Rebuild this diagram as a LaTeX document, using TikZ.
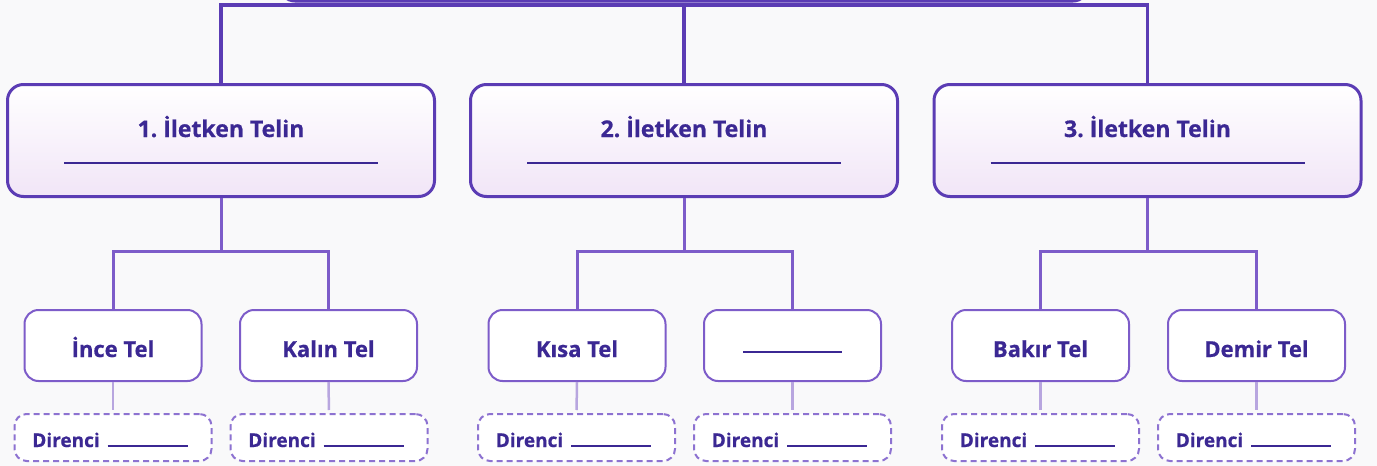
\documentclass[tikz,border=0pt]{standalone}
\usepackage{fontspec}
\setmainfont{Open Sans}[BoldFeatures={FakeBold=0.6}]
\frenchspacing
\definecolor{bg}{HTML}{F9F9FA}
\definecolor{dk}{HTML}{5B3CB4}
\definecolor{md}{HTML}{7D5CC9}
\definecolor{lt}{HTML}{B8A6DF}
\definecolor{dsh}{HTML}{8D72D1}
\definecolor{txt}{HTML}{3B2893}
\definecolor{lav}{HTML}{F1E5F7}
\begin{document}
\begin{tikzpicture}[x=1pt,y=-1pt,
  rootbox/.style={draw=dk, line width=3pt, rounded corners=15pt, fill=white, minimum width=808pt, minimum height=80pt},
  lvtwo/.style={draw=dk, line width=3pt, rounded corners=16pt, top color=white, bottom color=lav, minimum width=427pt, minimum height=112pt},
  ttl/.style={text=txt, font=\bfseries\fontsize{23}{27}\selectfont, anchor=base, inner sep=0pt},
  uline/.style={draw=txt, line width=1.8pt},
  lvthree/.style={draw=md, line width=2pt, rounded corners=14pt, fill=white, minimum width=177pt, minimum height=71pt, text=txt, font=\bfseries\fontsize{22}{26}\selectfont, text height=23pt, text depth=0pt, inner sep=0pt},
  dbox/.style={draw=dsh, line width=2pt, dash pattern=on 6pt off 4pt, rounded corners=12pt, fill=white, minimum width=197pt, minimum height=47pt, text=txt, font=\bfseries\fontsize{19}{22}\selectfont, text height=19pt, text depth=0pt, inner sep=0pt},
  topconn/.style={draw=dk, line width=3.5pt},
  midconn/.style={draw=md, line width=3pt},
  ltconn/.style={draw=lt, line width=2.5pt, shorten >=3pt}
]
\fill[bg] (0,0) rectangle (1377,466);
\begin{scope}
\clip (0,0) rectangle (1377,466);
\node[rootbox] (root) at (684,-39) {};
\end{scope}
\useasboundingbox (0,0) rectangle (1377,466);

% level 2
\node[lvtwo] (b1) at (221,140.5) {};
\node[lvtwo] (b2) at (684,140.5) {};
\node[lvtwo] (b3) at (1147.5,140.5) {};
\node[ttl] (t1) at (221,137) {1. İletken Telin};
\node[ttl] (t2) at (684,137) {2. İletken Telin};
\node[ttl] (t3) at (1147.5,137) {3. İletken Telin};
\draw[uline] (64,163) -- (378,163);
\draw[uline] (527,163) -- (841,163);
\draw[uline] (990.5,163) -- (1304.5,163);

% top connectors
\coordinate (bus) at (684,5);
\draw[topconn] (root.south) -- (bus);
\draw[topconn] (b1.north) |- (bus) -| (b3.north);
\draw[topconn] (b2.north) -- (bus);

% level 3
\node[lvthree] (c1) at (113,345.5) {İnce Tel};
\node[lvthree] (c2) at (328.5,345.5) {Kalın Tel};
\node[lvthree] (c3) at (577,345.5) {Kısa Tel};
\node[lvthree] (c4) at (792.5,345.5) {\rule[4pt]{99pt}{2pt}};
\node[lvthree] (c5) at (1040.5,345.5) {Bakır Tel};
\node[lvthree] (c6) at (1256.5,345.5) {Demir Tel};

% level 2 -> 3
\foreach \p/\a/\b in {b1/c1/c2, b2/c3/c4, b3/c5/c6}{
  \draw[midconn] (\p.south) -- ++(0,53) coordinate (j\p);
  \draw[midconn] (\a.north) |- (j\p) -| (\b.north);
}

% dashed boxes
\foreach \c/\x in {c1/113, c2/329, c3/576.5, c4/792.5, c5/1040.5, c6/1256.5}{
  \node[dbox] (d\c) at (\x,437.5) {\hspace{-6pt}Direnci\hspace{8pt}\rule{80pt}{2pt}};
  \draw[ltconn] (\c.south) -- (d\c.north);
}
\end{tikzpicture}
\end{document}
